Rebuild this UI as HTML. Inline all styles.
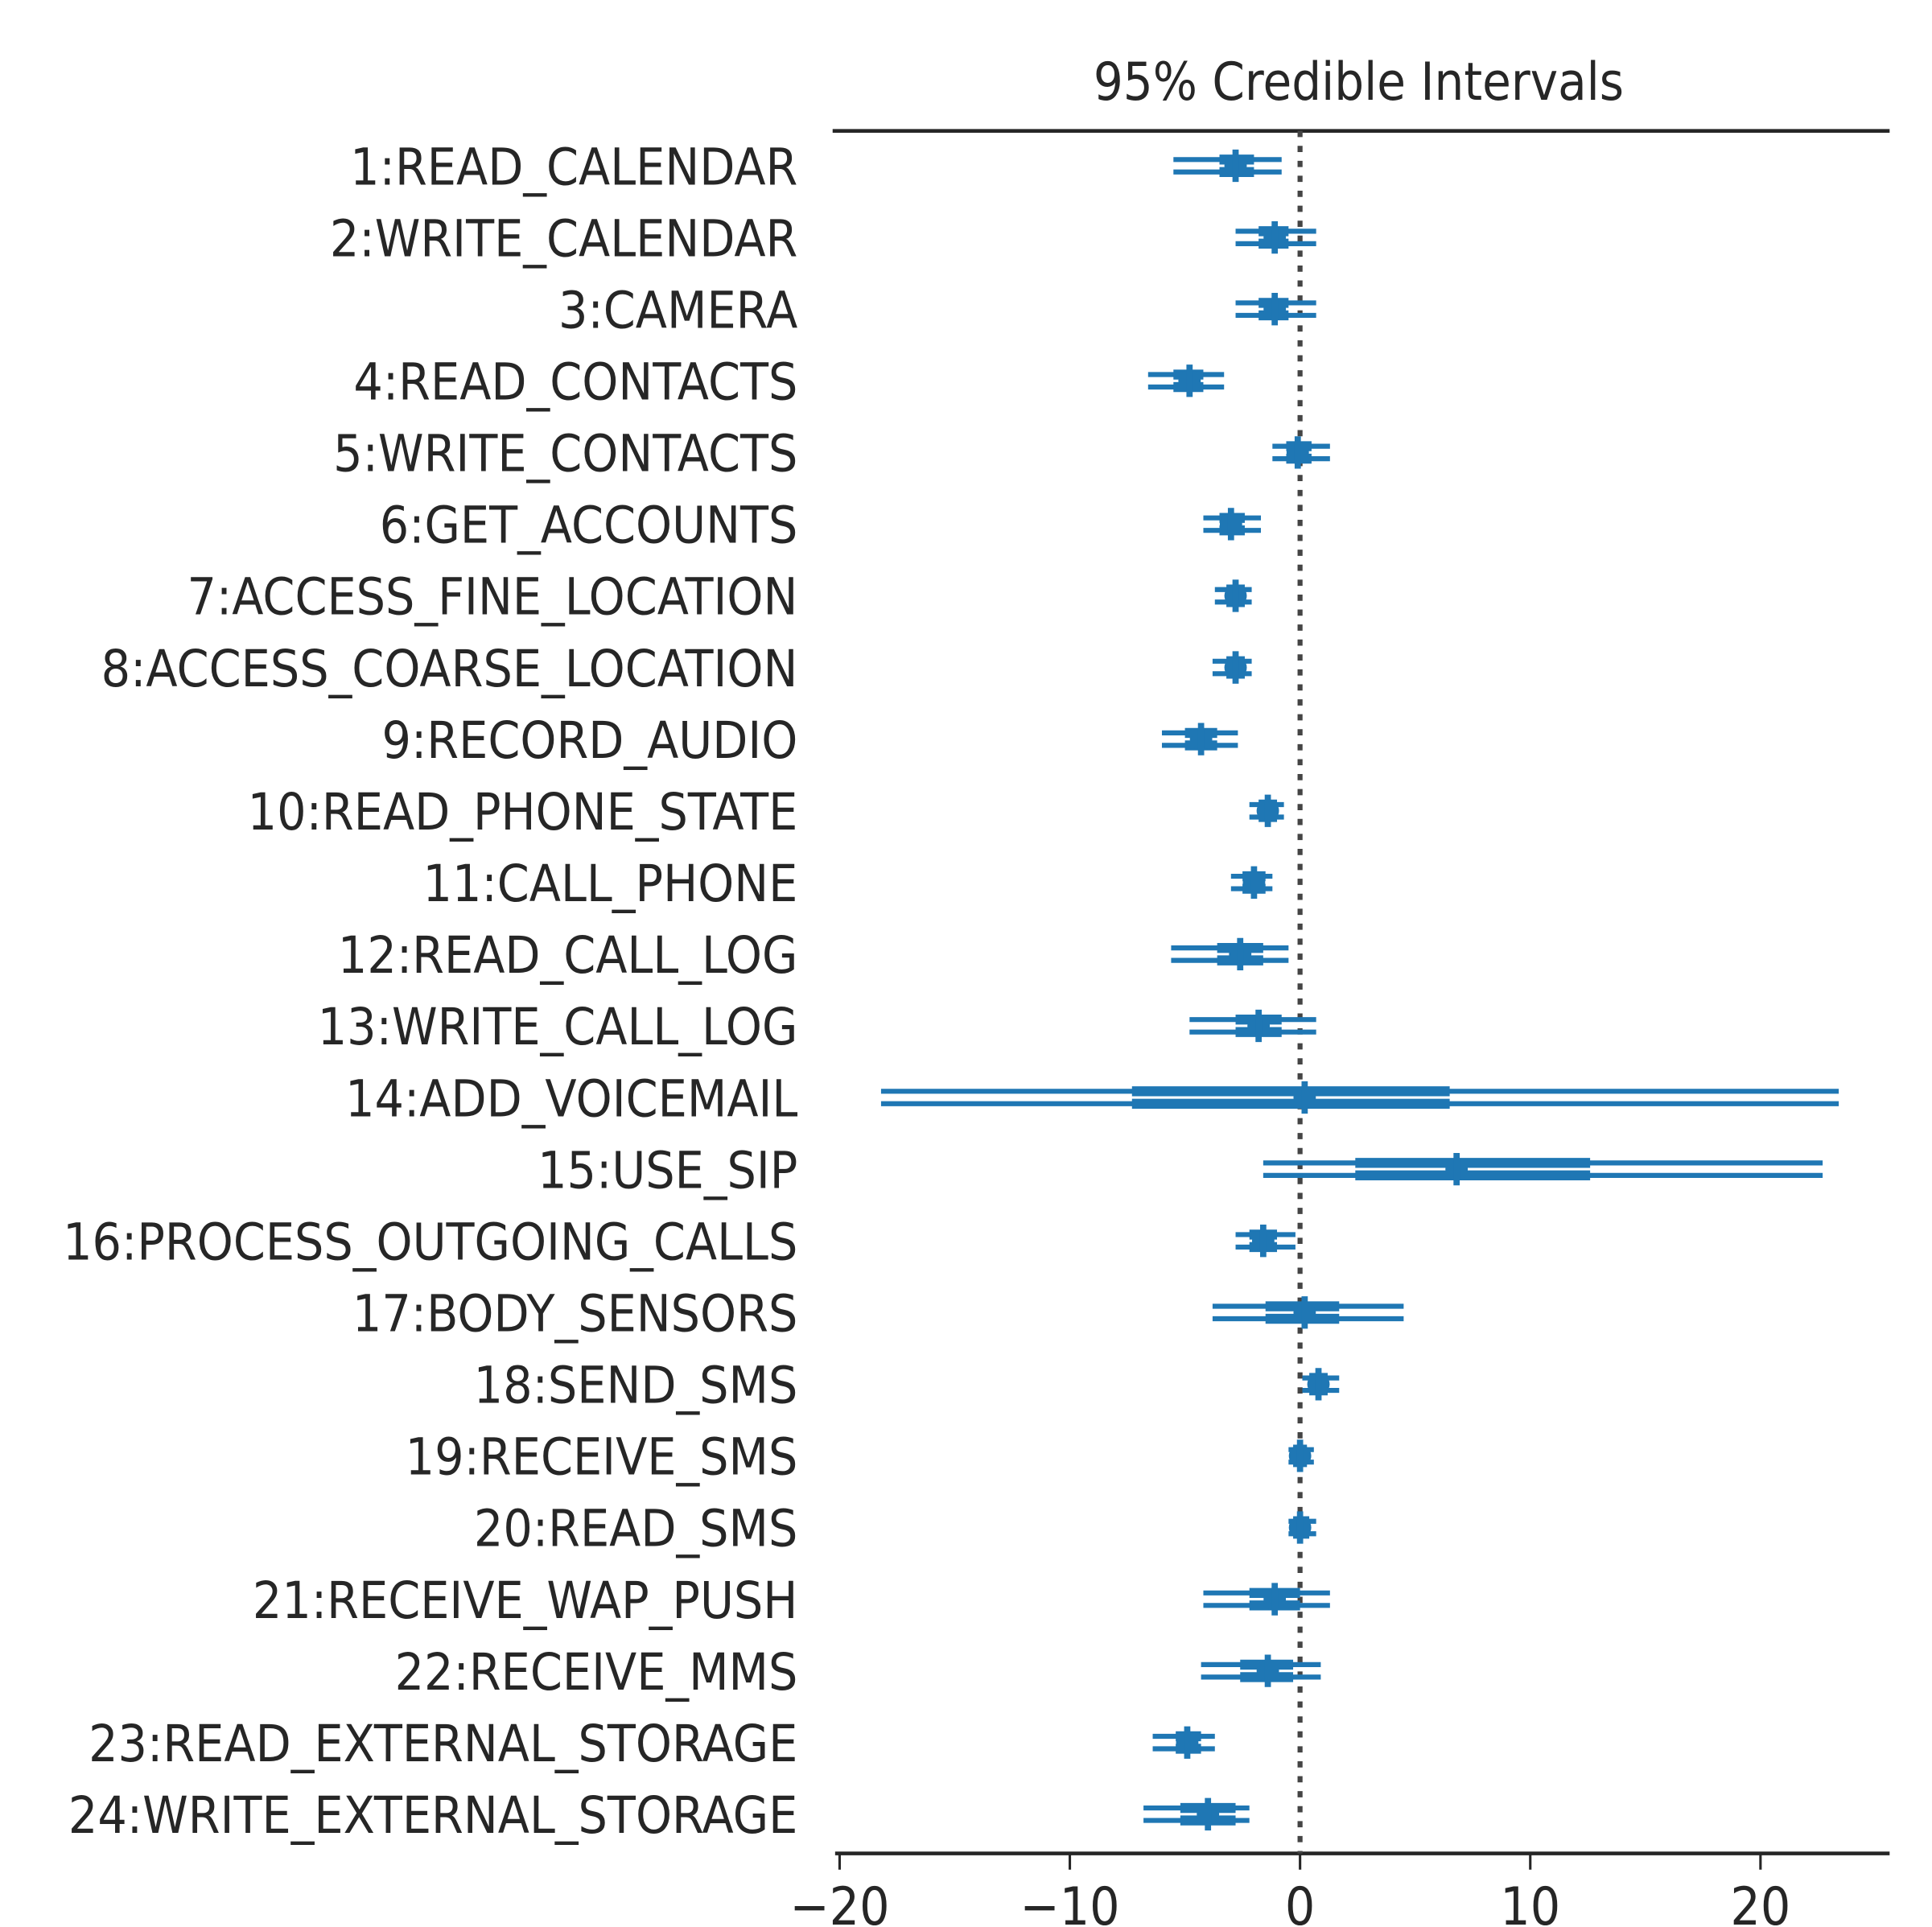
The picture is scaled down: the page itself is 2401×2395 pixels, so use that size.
<!DOCTYPE html>
<html><head><meta charset="utf-8"><style>
html,body{margin:0;padding:0;background:#fff;}
svg{display:block;}
text{font-family:"DejaVu Sans","Liberation Sans",sans-serif;fill:#262626;}
</style></head><body>
<svg id="chart" width="2401" height="2395" viewBox="0 0 1550 1546" preserveAspectRatio="none" xmlns="http://www.w3.org/2000/svg">
<text x="1090" y="80" font-size="37.5" text-anchor="middle" transform="translate(1090,80) scale(1,1.12) translate(-1090,-80)">95% Credible Intervals</text>
<line x1="668" y1="105" x2="1516" y2="105" stroke="#262626" stroke-width="3"/>
<line x1="670" y1="1487" x2="1516" y2="1487" stroke="#262626" stroke-width="3"/>
<g id="ticks"></g>
<line x1="1043" y1="105" x2="1043" y2="1487" stroke="#444" stroke-width="4" stroke-dasharray="5,7"/>
<g id="labels"></g>
<g id="marks"></g>
</svg>
<script>
const categories=["1:READ_CALENDAR","2:WRITE_CALENDAR","3:CAMERA","4:READ_CONTACTS","5:WRITE_CONTACTS","6:GET_ACCOUNTS","7:ACCESS_FINE_LOCATION","8:ACCESS_COARSE_LOCATION","9:RECORD_AUDIO","10:READ_PHONE_STATE","11:CALL_PHONE","12:READ_CALL_LOG","13:WRITE_CALL_LOG","14:ADD_VOICEMAIL","15:USE_SIP","16:PROCESS_OUTGOING_CALLS","17:BODY_SENSORS","18:SEND_SMS","19:RECEIVE_SMS","20:READ_SMS","21:RECEIVE_WAP_PUSH","22:RECEIVE_MMS","23:READ_EXTERNAL_STORAGE","24:WRITE_EXTERNAL_STORAGE"];
const means=[-2.8,-1.1,-1.1,-4.8,-0.1,-3.0,-2.8,-2.8,-4.3,-1.4,-2.0,-2.6,-1.8,0.2,6.8,-1.6,0.2,0.8,0.0,0.0,-1.1,-1.4,-4.9,-4.0];
const lo95=[-5.5,-2.8,-2.8,-6.6,-1.2,-4.2,-3.7,-3.8,-6.0,-2.2,-3.0,-5.6,-4.8,-18.2,-1.6,-2.8,-3.8,0.1,-0.5,-0.5,-4.2,-4.3,-6.4,-6.8];
const hi95=[-0.8,0.7,0.7,-3.3,1.3,-1.7,-2.1,-2.1,-2.7,-0.7,-1.2,-0.5,0.7,23.4,22.7,-0.2,4.5,1.7,0.6,0.7,1.3,0.9,-3.7,-2.2];
const lo50=[-3.5,-1.8,-1.8,-5.5,-0.6,-3.5,-3.2,-3.2,-5.0,-1.8,-2.5,-3.6,-2.8,-7.3,2.4,-2.2,-1.5,0.4,-0.3,-0.3,-2.2,-2.6,-5.4,-5.2];
const hi50=[-2.0,-0.5,-0.5,-4.2,0.5,-2.4,-2.4,-2.4,-3.6,-1.0,-1.5,-1.6,-0.8,6.5,12.6,-1.0,1.7,1.2,0.3,0.4,0.0,-0.3,-4.3,-2.8];
const tickVals=[-20,-10,0,10,20];
const tickLabels=["\u221220","\u221210","0","10","20"];

const NS="http://www.w3.org/2000/svg";
function xs(v){return 1043+v*18.47;}
function ys(i){return 133+i*57.5;}
function mk(tag,attrs,parent){const e=document.createElementNS(NS,tag);for(const k in attrs)e.setAttribute(k,attrs[k]);parent.appendChild(e);return e;}
const tg=document.getElementById('ticks'),lg=document.getElementById('labels'),mg=document.getElementById('marks');
tickVals.forEach((v,i)=>{
  const t=mk('line',{x1:xs(v),x2:xs(v),y1:1487,y2:1500,stroke:'#262626','stroke-width':2},tg);
  
  
  const l=mk('text',{x:xs(v),y:1544,'font-size':38,'text-anchor':'middle',transform:`translate(${xs(v)},1544) scale(1,1.1) translate(${-xs(v)},-1544)`},tg);
  l.textContent=tickLabels[i];
  
  
});
categories.forEach((c,i)=>{
  const y=ys(i)+15;
  const l=mk('text',{x:640,y:y,'font-size':37,'text-anchor':'end',transform:`translate(640,${y}) scale(1,1.1) translate(-640,${-y})`},lg);
  l.textContent=c;
  
  
  const g=mk('g',{},mg);
  
  
  [-5,5].forEach(off=>{
    const yy=ys(i)+off;
    const a=mk('line',{x1:xs(lo95[i]),x2:xs(hi95[i]),y1:yy,y2:yy,stroke:'#1f77b4','stroke-width':4},g);
    
    
    const b=mk('line',{x1:xs(lo50[i]),x2:xs(hi50[i]),y1:yy,y2:yy,stroke:'#1f77b4','stroke-width':8},g);
    
    
  });
  const p=mk('circle',{cx:xs(means[i]),cy:ys(i),r:9,fill:'#1f77b4'},g);
  
  
  const s=mk('line',{x1:xs(means[i]),x2:xs(means[i]),y1:ys(i)-13,y2:ys(i)+13,stroke:'#1f77b4','stroke-width':5},g);
  
  
});
</script>
</body></html>
